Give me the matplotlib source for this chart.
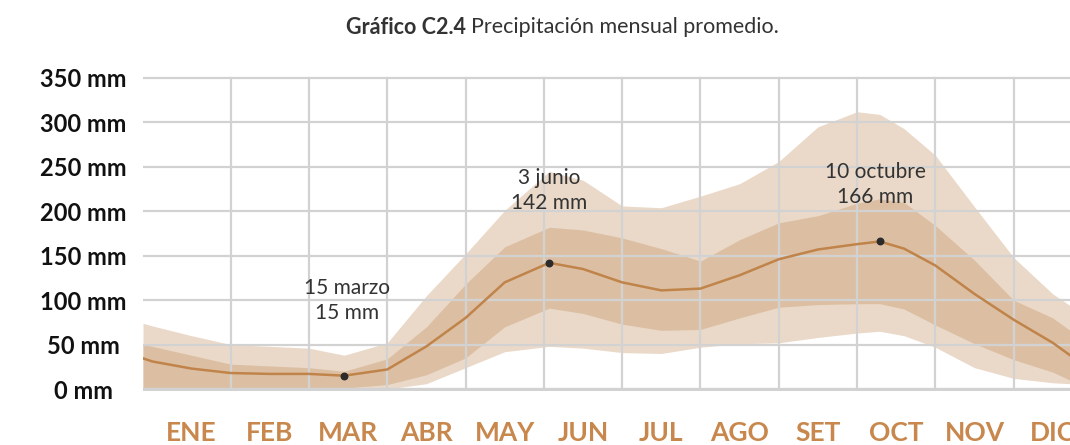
import matplotlib
matplotlib.use("Agg")
import matplotlib.pyplot as plt

plt.rcParams['font.family'] = ['Lato', 'DejaVu Sans']

# position in months (0 = 1 enero)
x = [-0.12, 0, 0.5, 1, 1.5, 2, 2.45, 3, 3.5, 4, 4.5, 5.07, 5.5, 6, 6.5,
     7, 7.5, 8, 8.5, 9, 9.29, 9.6, 10, 10.5, 11, 11.5, 11.72]

mediana = [34.5, 31, 23, 18, 17, 17, 15, 22, 48, 80, 120, 142, 135, 120, 111,
           113, 128, 146, 157, 163, 166, 158, 139, 107, 78, 52, 38]
p25 = [0, 0, 0, 0, 0, 0, 1, 5, 16, 35, 70, 91, 85, 73, 66,
       67, 80, 92, 95, 96, 96, 90, 72, 51, 33, 19, 10]
p75 = [50, 48, 38, 28, 26, 24, 20, 34, 70, 118, 160, 182, 179, 170, 158,
       144, 168, 187, 195, 209, 214, 210, 184, 145, 100, 80, 66]
p10 = [0, 0, 0, 0, 0, 0, 0, 0, 6, 24, 42, 48, 46, 41, 40,
       47, 51, 52, 58, 63, 65, 60, 47, 24, 12, 7, 6]
p90 = [74, 71, 60, 50, 48, 46, 38, 52, 105, 152, 201, 245, 235, 206, 204,
       217, 231, 256, 295, 312, 309, 293, 263, 205, 148, 107, 94]

meses = ['ENE', 'FEB', 'MAR', 'ABR', 'MAY', 'JUN', 'JUL', 'AGO', 'SET', 'OCT', 'NOV', 'DIC']
yticks = [0, 50, 100, 150, 200, 250, 300, 350]

# puntos destacados
dest_x = [2.45, 5.07, 9.29]
dest_y = [15, 142, 166]
dest_txt = ['15 marzo\n15 mm', '3 junio\n142 mm', '10 octubre\n166 mm']
dest_off = [(2, 54), (0, 52), (-3, 41)]

fig = plt.figure(figsize=(10.7, 4.45), dpi=100)
ax = fig.add_axes([143 / 1070, 0.1218, 1 - 143 / 1070, 0.707])

ax.fill_between(x, p10, p90, color='#EAD9C8', lw=0, zorder=1)
ax.fill_between(x, p25, p75, color='#DCBFA3', lw=0, zorder=1.5)

for v in yticks:
    ax.axhline(v, color='#D2D2D2', lw=1.6 if v else 2.4, zorder=2)
for m in range(1, 12):
    ax.plot([m, m], [0, 350], color='#D2D2D2', lw=1.6, zorder=2)

ax.plot(x, mediana, color='#C0844A', lw=1.8, zorder=3)
ax.scatter(dest_x, dest_y, s=22, color='#2B2B2B', zorder=4)
for px, py, t, off in zip(dest_x, dest_y, dest_txt, dest_off):
    ax.annotate(t, (px, py), xytext=off, textcoords='offset points',
                ha='center', va='center', fontsize=15, color='#333333',
                linespacing=1.3)

ax.set_xlim(-0.12, 11.72)
ax.set_ylim(-2, 352)
for s in ax.spines.values():
    s.set_visible(False)

ax.set_yticks(yticks)
ax.set_yticklabels([f'{v} mm' for v in yticks], fontsize=17, fontweight='bold',
                   color='#111111')
for lab in ax.get_yticklabels():
    lab.set_ha('center')
ax.tick_params(axis='y', length=0, pad=43)

ax.set_xticks([m + 0.5 for m in range(12)])
ax.set_xticklabels(meses, fontsize=19, fontweight='bold', color='#C8874C')
ax.tick_params(axis='x', length=0, pad=22)

fig.text(466 / 1070, 0.939, 'Gráfico C2.4', ha='right', va='center',
         fontsize=15.5, fontweight='bold', color='#333333')
fig.text(471 / 1070, 0.939, 'Precipitación mensual promedio.', ha='left',
         va='center', fontsize=15.5, color='#333333')

fig.savefig('out.png', dpi=100)
